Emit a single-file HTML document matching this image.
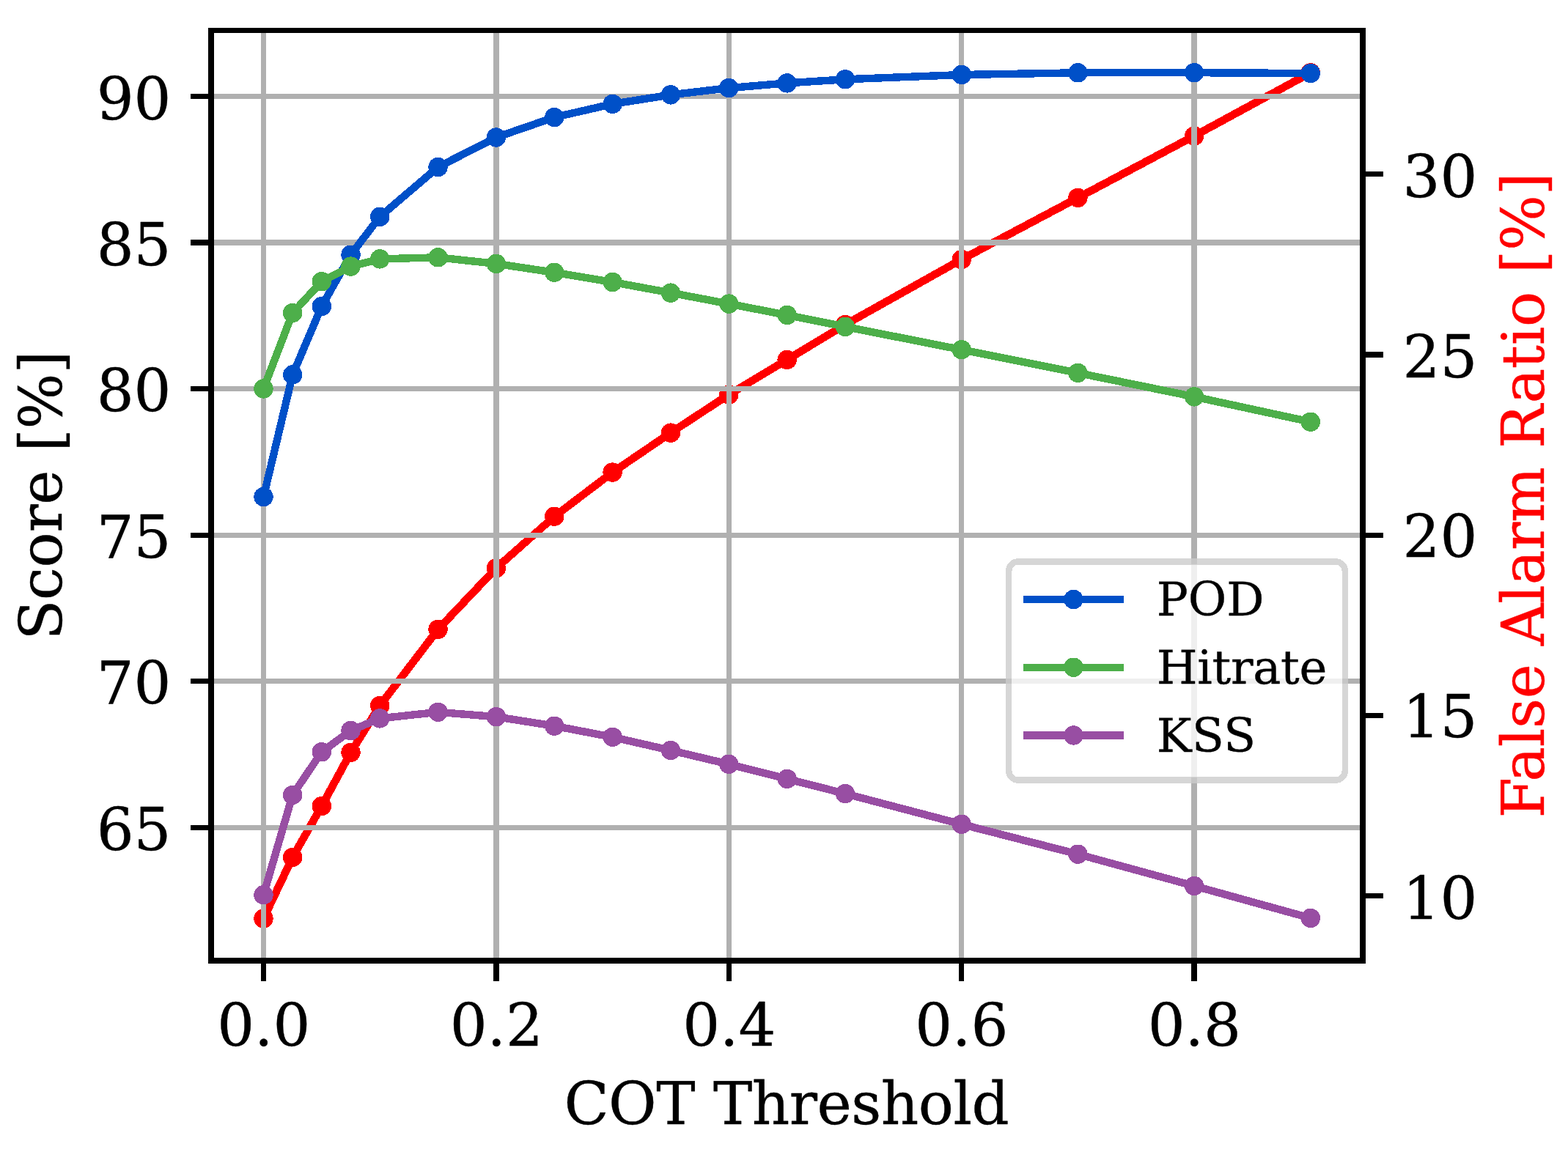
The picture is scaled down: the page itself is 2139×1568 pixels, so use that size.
<!DOCTYPE html>
<html lang="en"><head><meta charset="utf-8"><title>COT Threshold scores</title>
<style>html,body{margin:0;padding:0;background:#fff}body{width:2139px;height:1568px;overflow:hidden}svg{display:block}text{font-family:'DejaVu Serif','Liberation Serif',serif;stroke-width:0.4px;stroke-linejoin:round}line,polyline,circle,rect{shape-rendering:crispEdges}</style>
</head><body>
<svg width="2139" height="1568" viewBox="0 0 2139 1568">
<rect x="0" y="0" width="2139" height="1568" fill="#ffffff"/>
<g id="far">
<polyline points="359.5,1253.5 399.18,1169.9 438.85,1100 478.52,1026.9 518.2,962.9 597.55,858.9 676.9,775.3 756.25,704.8 835.6,644.6 914.95,590.6 994.3,538.5 1073.65,490.9 1153,443 1311.7,354.1 1470.4,269.9 1629.1,185.5 1787.8,99.3" fill="none" stroke="#ff0000" stroke-width="10.7" stroke-linejoin="round" stroke-linecap="square"/>
<g fill="#ff0000">
<circle cx="359.5" cy="1253.5" r="13.2"/>
<circle cx="399.18" cy="1169.9" r="13.2"/>
<circle cx="438.85" cy="1100" r="13.2"/>
<circle cx="478.52" cy="1026.9" r="13.2"/>
<circle cx="518.2" cy="962.9" r="13.2"/>
<circle cx="597.55" cy="858.9" r="13.2"/>
<circle cx="676.9" cy="775.3" r="13.2"/>
<circle cx="756.25" cy="704.8" r="13.2"/>
<circle cx="835.6" cy="644.6" r="13.2"/>
<circle cx="914.95" cy="590.6" r="13.2"/>
<circle cx="994.3" cy="538.5" r="13.2"/>
<circle cx="1073.65" cy="490.9" r="13.2"/>
<circle cx="1153" cy="443" r="13.2"/>
<circle cx="1311.7" cy="354.1" r="13.2"/>
<circle cx="1470.4" cy="269.9" r="13.2"/>
<circle cx="1629.1" cy="185.5" r="13.2"/>
<circle cx="1787.8" cy="99.3" r="13.2"/>
</g>
</g>
<g id="grid" fill="#b0b0b0">
<rect x="356" y="45" width="7" height="1262"/>
<rect x="673" y="45" width="8" height="1262"/>
<rect x="991" y="45" width="7" height="1262"/>
<rect x="1308" y="45" width="7" height="1262"/>
<rect x="1625" y="45" width="8" height="1262"/>
<rect x="292" y="128" width="1563" height="7"/>
<rect x="292" y="327" width="1563" height="8"/>
<rect x="292" y="527" width="1563" height="7"/>
<rect x="292" y="727" width="1563" height="7"/>
<rect x="292" y="926" width="1563" height="7"/>
<rect x="292" y="1126" width="1563" height="7"/>
</g>
<g id="pod"><polyline points="359.5,678 399.18,511.4 438.85,418 478.52,347.7 518.2,295.8 597.55,228 676.9,187.5 756.25,160.1 835.6,141.9 914.95,129.4 994.3,120.1 1073.65,113.4 1153,108.3 1311.7,102 1470.4,99.3 1629.1,99.2 1787.8,100" fill="none" stroke="#0050c8" stroke-width="10.4" stroke-linejoin="round" stroke-linecap="square"/>
<g fill="#0050c8">
<circle cx="359.5" cy="678" r="13.2"/>
<circle cx="399.18" cy="511.4" r="13.2"/>
<circle cx="438.85" cy="418" r="13.2"/>
<circle cx="478.52" cy="347.7" r="13.2"/>
<circle cx="518.2" cy="295.8" r="13.2"/>
<circle cx="597.55" cy="228" r="13.2"/>
<circle cx="676.9" cy="187.5" r="13.2"/>
<circle cx="756.25" cy="160.1" r="13.2"/>
<circle cx="835.6" cy="141.9" r="13.2"/>
<circle cx="914.95" cy="129.4" r="13.2"/>
<circle cx="994.3" cy="120.1" r="13.2"/>
<circle cx="1073.65" cy="113.4" r="13.2"/>
<circle cx="1153" cy="108.3" r="13.2"/>
<circle cx="1311.7" cy="102" r="13.2"/>
<circle cx="1470.4" cy="99.3" r="13.2"/>
<circle cx="1629.1" cy="99.2" r="13.2"/>
<circle cx="1787.8" cy="100" r="13.2"/>
</g></g>
<g id="hitrate"><polyline points="359.5,530.5 399.18,427 438.85,384.2 478.52,363.6 518.2,353.4 597.55,351.3 676.9,359.9 756.25,371.8 835.6,385 914.95,399.6 994.3,414.6 1073.65,430 1153,445.9 1311.7,477.2 1470.4,508.9 1629.1,541.4 1787.8,575.7" fill="none" stroke="#4daf4a" stroke-width="10.4" stroke-linejoin="round" stroke-linecap="square"/>
<g fill="#4daf4a">
<circle cx="359.5" cy="530.5" r="13.2"/>
<circle cx="399.18" cy="427" r="13.2"/>
<circle cx="438.85" cy="384.2" r="13.2"/>
<circle cx="478.52" cy="363.6" r="13.2"/>
<circle cx="518.2" cy="353.4" r="13.2"/>
<circle cx="597.55" cy="351.3" r="13.2"/>
<circle cx="676.9" cy="359.9" r="13.2"/>
<circle cx="756.25" cy="371.8" r="13.2"/>
<circle cx="835.6" cy="385" r="13.2"/>
<circle cx="914.95" cy="399.6" r="13.2"/>
<circle cx="994.3" cy="414.6" r="13.2"/>
<circle cx="1073.65" cy="430" r="13.2"/>
<circle cx="1153" cy="445.9" r="13.2"/>
<circle cx="1311.7" cy="477.2" r="13.2"/>
<circle cx="1470.4" cy="508.9" r="13.2"/>
<circle cx="1629.1" cy="541.4" r="13.2"/>
<circle cx="1787.8" cy="575.7" r="13.2"/>
</g></g>
<g id="kss"><polyline points="359.5,1221.2 399.18,1084.9 438.85,1026.2 478.52,997 518.2,980.4 597.55,971.8 676.9,978.2 756.25,990.7 835.6,1005.9 914.95,1024 994.3,1042.8 1073.65,1062.9 1153,1083.1 1311.7,1124.8 1470.4,1165.7 1629.1,1209 1787.8,1252.9" fill="none" stroke="#984ea3" stroke-width="10.4" stroke-linejoin="round" stroke-linecap="square"/>
<g fill="#984ea3">
<circle cx="359.5" cy="1221.2" r="13.2"/>
<circle cx="399.18" cy="1084.9" r="13.2"/>
<circle cx="438.85" cy="1026.2" r="13.2"/>
<circle cx="478.52" cy="997" r="13.2"/>
<circle cx="518.2" cy="980.4" r="13.2"/>
<circle cx="597.55" cy="971.8" r="13.2"/>
<circle cx="676.9" cy="978.2" r="13.2"/>
<circle cx="756.25" cy="990.7" r="13.2"/>
<circle cx="835.6" cy="1005.9" r="13.2"/>
<circle cx="914.95" cy="1024" r="13.2"/>
<circle cx="994.3" cy="1042.8" r="13.2"/>
<circle cx="1073.65" cy="1062.9" r="13.2"/>
<circle cx="1153" cy="1083.1" r="13.2"/>
<circle cx="1311.7" cy="1124.8" r="13.2"/>
<circle cx="1470.4" cy="1165.7" r="13.2"/>
<circle cx="1629.1" cy="1209" r="13.2"/>
<circle cx="1787.8" cy="1252.9" r="13.2"/>
</g></g>
<g id="axes" fill="#000000">
<rect x="356" y="1315" width="7" height="24"/>
<rect x="673" y="1315" width="8" height="24"/>
<rect x="991" y="1315" width="7" height="24"/>
<rect x="1308" y="1315" width="7" height="24"/>
<rect x="1625" y="1315" width="8" height="24"/>
<rect x="260" y="128" width="24" height="7"/>
<rect x="260" y="327" width="24" height="8"/>
<rect x="260" y="527" width="24" height="7"/>
<rect x="260" y="727" width="24" height="7"/>
<rect x="260" y="926" width="24" height="7"/>
<rect x="260" y="1126" width="24" height="7"/>
<rect x="1863" y="234" width="24" height="7"/>
<rect x="1863" y="480" width="24" height="8"/>
<rect x="1863" y="727" width="24" height="7"/>
<rect x="1863" y="973" width="24" height="7"/>
<rect x="1863" y="1219" width="24" height="7"/>
<rect x="284" y="38" width="8" height="1277"/>
<rect x="1855" y="38" width="8" height="1277"/>
<rect x="284" y="38" width="1579" height="7"/>
<rect x="284" y="1307" width="1579" height="8"/>
</g>
<g id="legend">
<rect x="1380.2" y="770.4" width="450.6" height="290.2" rx="8.8" ry="8.8" fill="#ffffff" fill-opacity="0.8"/>
<rect x="1376.2" y="766.4" width="458.6" height="298.2" rx="12.8" ry="12.8" fill="none" stroke="#cccccc" stroke-opacity="0.8" stroke-width="8.4"/>
<line x1="1401" y1="818" x2="1527.8" y2="818" stroke="#0050c8" stroke-width="10.4" stroke-linecap="square"/>
<circle cx="1464.5" cy="818" r="13.2" fill="#0050c8"/>
<text x="1577.8" y="839.8" font-size="64" fill="#000" stroke="#000" letter-spacing="0">POD</text>
<line x1="1401" y1="910.7" x2="1527.8" y2="910.7" stroke="#4daf4a" stroke-width="10.4" stroke-linecap="square"/>
<circle cx="1464.5" cy="910.7" r="13.2" fill="#4daf4a"/>
<text x="1577.8" y="932.8" font-size="64" fill="#000" stroke="#000" letter-spacing="-0.3">Hitrate</text>
<line x1="1401" y1="1003.5" x2="1527.8" y2="1003.5" stroke="#984ea3" stroke-width="10.4" stroke-linecap="square"/>
<circle cx="1464.5" cy="1003.5" r="13.2" fill="#984ea3"/>
<text x="1577.8" y="1025.8" font-size="64" fill="#000" stroke="#000" letter-spacing="0.5">KSS</text>
</g>
<g id="ticklabels" font-size="80" fill="#000" stroke="#000">
<text x="359.8" y="1426.5" text-anchor="middle">0.0</text>
<text x="677.3" y="1426.5" text-anchor="middle">0.2</text>
<text x="994.8" y="1426.5" text-anchor="middle">0.4</text>
<text x="1311.8" y="1426.5" text-anchor="middle">0.6</text>
<text x="1629.3" y="1426.5" text-anchor="middle">0.8</text>
<text x="233.5" y="162.5" text-anchor="end">90</text>
<text x="233.5" y="362" text-anchor="end">85</text>
<text x="233.5" y="560.8" text-anchor="end">80</text>
<text x="233.5" y="760.8" text-anchor="end">75</text>
<text x="233.5" y="959.8" text-anchor="end">70</text>
<text x="233.5" y="1159.8" text-anchor="end">65</text>
<text x="1913.5" y="269" text-anchor="start">30</text>
<text x="1913.5" y="514.7" text-anchor="start">25</text>
<text x="1913.5" y="760" text-anchor="start">20</text>
<text x="1913.5" y="1006.2" text-anchor="start">15</text>
<text x="1913.5" y="1253.5" text-anchor="start">10</text>
</g>
<g id="axislabels" font-size="80">
<text x="1072.8" y="1533.9" text-anchor="middle" fill="#000" stroke="#000" letter-spacing="-0.52">COT Threshold</text>
<text transform="translate(84.4,676.2) rotate(-90)" text-anchor="middle" fill="#000" stroke="#000" letter-spacing="-0.3">Score [%]</text>
<text transform="translate(2105.6,676) rotate(-90)" text-anchor="middle" fill="#ff0000" stroke="#ff0000" letter-spacing="-0.3">False Alarm Ratio [%]</text>
</g>
</svg>
</body></html>
